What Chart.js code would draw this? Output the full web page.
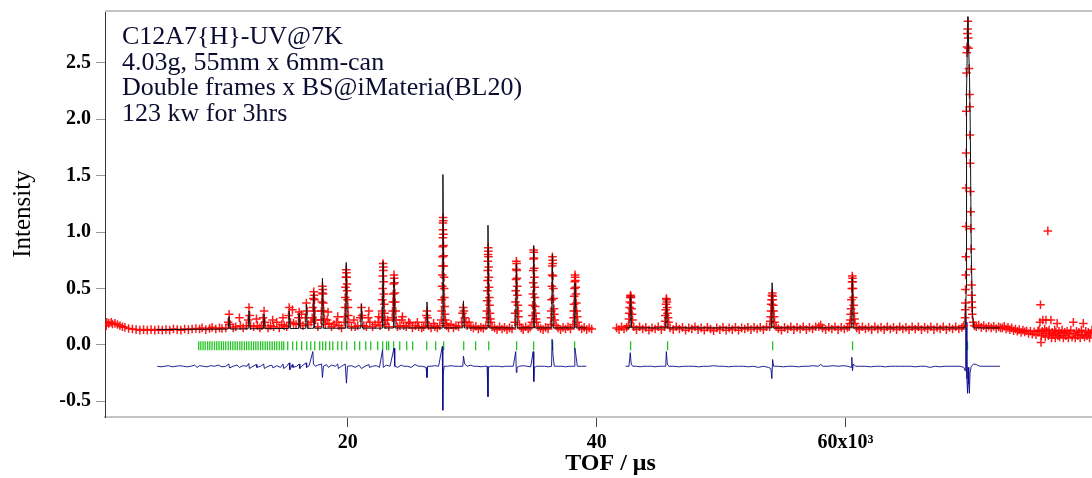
<!DOCTYPE html>
<html>
<head>
<meta charset="utf-8">
<script src="https://cdn.jsdelivr.net/npm/chart.js@4.4.0/dist/chart.umd.min.js"></script>
<style>
  html, body { margin: 0; padding: 0; background: #fff; }
  #wrap { position: relative; width: 1092px; height: 478px; }
  #note { position: absolute; left: 122px; top: 23px; font: 26px/25.5px "Liberation Serif", serif; color: #0c0c30; white-space: pre; }
</style>
</head>
<body>
<div id="wrap">
  <canvas id="rietveld" width="1092" height="478"></canvas>
  <div id="note">C12A7{H}-UV@7K
4.03g, 55mm x 6mm-can
Double frames x BS@iMateria(BL20)
123 kw for 3hrs</div>
</div>
<script>
// observed intensity, [TOF (x10^3 us), intensity]
var obsLow = [[0.6,0.17],[0.65,0.2],[0.8,0.19],[1.0,0.2],[1.1,0.185],[1.3,0.19],[1.5,0.18],[1.7,0.17],[1.9,0.16],[2.1,0.155],[2.4,0.145],[2.7,0.14],[3.0,0.135],[3.3,0.13],[3.6,0.135],[3.9,0.13],[4.2,0.135],[4.5,0.13],[4.8,0.135],[5.1,0.13],[5.4,0.135],[5.7,0.13],[6.0,0.14],[6.3,0.135],[6.6,0.13],[6.9,0.14],[7.2,0.135],[7.5,0.14],[7.8,0.145],[8.1,0.14],[8.3,0.15],[8.6,0.135],[8.9,0.145],[9.1,0.155],[9.4,0.14],[9.7,0.15],[9.9,0.145]];

var obsMid = [[10.2,0.15],[10.4,0.2],[10.47,0.27],[10.55,0.18],[10.8,0.15],[11.0,0.16],[11.3,0.24],[11.38,0.17],[11.6,0.15],[11.85,0.17],[12.0,0.22],[12.07,0.33],[12.12,0.26],[12.2,0.17],[12.45,0.16],[12.67,0.23],[12.75,0.17],[12.95,0.15],[13.1,0.17],[13.2,0.24],[13.28,0.3],[13.35,0.2],[13.6,0.15],[13.8,0.17],[13.97,0.22],[14.05,0.16],[14.3,0.2],[14.5,0.15],[14.7,0.18],[14.8,0.24],[14.9,0.17],[15.1,0.16],[15.25,0.26],[15.3,0.33],[15.4,0.2],[15.56,0.31],[15.65,0.19],[15.85,0.18],[16.05,0.24],[16.1,0.29],[16.2,0.19],[16.28,0.27],[16.4,0.17],[16.6,0.24],[16.68,0.37],[16.75,0.3],[16.85,0.18],[17.05,0.2],[17.15,0.24],[17.2,0.33],[17.24,0.41],[17.27,0.47],[17.3,0.44],[17.33,0.4],[17.37,0.3],[17.42,0.22],[17.6,0.16],[17.85,0.22],[17.88,0.3],[17.92,0.38],[17.95,0.46],[17.97,0.52],[18.0,0.49],[18.02,0.45],[18.05,0.37],[18.08,0.3],[18.13,0.23],[18.2,0.18],[18.35,0.22],[18.42,0.29],[18.5,0.19],[18.7,0.16],[18.9,0.18],[19.1,0.2],[19.2,0.25],[19.3,0.17],[19.5,0.15],[19.72,0.2],[19.75,0.25],[19.78,0.33],[19.8,0.42],[19.82,0.51],[19.85,0.6],[19.88,0.665],[19.9,0.64],[19.92,0.6],[19.94,0.54],[19.96,0.48],[19.99,0.4],[20.02,0.33],[20.05,0.26],[20.1,0.2],[20.3,0.16],[20.5,0.22],[20.6,0.16],[20.8,0.17],[21.0,0.24],[21.1,0.33],[21.16,0.26],[21.3,0.17],[21.5,0.16],[21.65,0.24],[21.7,0.3],[21.78,0.2],[22.0,0.16],[22.2,0.18],[22.45,0.2],[22.5,0.25],[22.6,0.17],[22.72,0.24],[22.75,0.3],[22.77,0.4],[22.8,0.5],[22.82,0.61],[22.84,0.72],[22.86,0.69],[22.87,0.66],[22.89,0.56],[22.91,0.45],[22.94,0.36],[22.97,0.28],[23.0,0.22],[23.05,0.18],[23.2,0.22],[23.3,0.16],[23.58,0.24],[23.6,0.3],[23.63,0.38],[23.66,0.45],[23.69,0.54],[23.72,0.62],[23.74,0.59],[23.76,0.55],[23.79,0.46],[23.82,0.38],[23.86,0.3],[23.9,0.22],[24.0,0.16],[24.2,0.17],[24.35,0.22],[24.4,0.25],[24.5,0.17],[24.7,0.16],[24.9,0.2],[25.0,0.19],[25.2,0.15],[25.45,0.17],[25.6,0.2],[25.7,0.16],[25.95,0.15]];

var obsHigh = [[26.1,0.16],[26.25,0.2],[26.32,0.26],[26.37,0.3],[26.42,0.24],[26.5,0.17],[26.7,0.15],[26.9,0.19],[27.0,0.16],[27.2,0.15],[27.4,0.17],[27.52,0.22],[27.55,0.3],[27.57,0.4],[27.59,0.52],[27.6,0.62],[27.61,0.7],[27.62,0.78],[27.63,0.87],[27.64,0.95],[27.65,1.02],[27.65,1.08],[27.66,1.13],[27.68,1.1],[27.69,0.98],[27.7,0.88],[27.71,0.79],[27.72,0.7],[27.74,0.6],[27.75,0.5],[27.77,0.42],[27.79,0.34],[27.82,0.27],[27.85,0.22],[27.9,0.19],[27.95,0.17],[28.1,0.15],[28.3,0.18],[28.5,0.15],[28.7,0.17],[28.9,0.16],[29.15,0.2],[29.22,0.28],[29.28,0.33],[29.33,0.3],[29.4,0.24],[29.5,0.2],[29.6,0.17],[29.75,0.2],[29.9,0.16],[30.1,0.15],[30.3,0.165],[30.5,0.14],[30.7,0.155],[30.9,0.145],[31.1,0.17],[31.16,0.24],[31.18,0.3],[31.2,0.39],[31.22,0.48],[31.24,0.57],[31.25,0.66],[31.26,0.74],[31.27,0.8],[31.29,0.86],[31.3,0.83],[31.31,0.78],[31.33,0.69],[31.34,0.6],[31.36,0.51],[31.38,0.42],[31.4,0.35],[31.43,0.28],[31.47,0.23],[31.5,0.2],[31.6,0.16],[31.8,0.15],[32.0,0.135],[32.2,0.16],[32.4,0.14],[32.6,0.155],[32.8,0.135],[33.0,0.15],[33.2,0.14],[33.42,0.2],[33.45,0.28],[33.48,0.38],[33.5,0.48],[33.52,0.58],[33.54,0.67],[33.55,0.74],[33.57,0.72],[33.58,0.66],[33.6,0.59],[33.62,0.52],[33.64,0.44],[33.67,0.35],[33.7,0.3],[33.73,0.25],[33.8,0.18],[33.95,0.15],[34.1,0.135],[34.3,0.16],[34.5,0.14],[34.65,0.155],[34.8,0.2],[34.84,0.26],[34.86,0.35],[34.88,0.45],[34.9,0.55],[34.91,0.66],[34.93,0.76],[34.94,0.84],[34.96,0.82],[34.97,0.77],[34.99,0.68],[35.0,0.6],[35.02,0.51],[35.04,0.42],[35.07,0.34],[35.1,0.28],[35.14,0.23],[35.18,0.2],[35.3,0.16],[35.5,0.145],[35.7,0.135],[35.9,0.155],[36.1,0.14],[36.3,0.18],[36.34,0.24],[36.36,0.3],[36.38,0.4],[36.4,0.52],[36.42,0.62],[36.43,0.7],[36.45,0.78],[36.47,0.75],[36.48,0.72],[36.5,0.61],[36.52,0.5],[36.54,0.41],[36.57,0.32],[36.6,0.27],[36.64,0.22],[36.75,0.17],[36.9,0.15],[37.1,0.135],[37.3,0.155],[37.5,0.14],[37.7,0.16],[37.9,0.14],[38.1,0.18],[38.14,0.24],[38.16,0.3],[38.18,0.36],[38.2,0.43],[38.22,0.5],[38.24,0.56],[38.26,0.62],[38.28,0.6],[38.3,0.57],[38.32,0.51],[38.34,0.45],[38.37,0.37],[38.4,0.3],[38.44,0.25],[38.48,0.2],[38.6,0.16],[38.8,0.14],[39.0,0.155],[39.2,0.135],[39.4,0.15],[39.6,0.14]];

var obsRight = [[41.6,0.15],[41.8,0.135],[42.0,0.16],[42.2,0.14],[42.4,0.155],[42.55,0.17],[42.6,0.23],[42.62,0.28],[42.65,0.33],[42.67,0.38],[42.7,0.42],[42.72,0.44],[42.74,0.43],[42.76,0.42],[42.78,0.37],[42.81,0.32],[42.84,0.27],[42.88,0.22],[42.98,0.16],[43.2,0.135],[43.45,0.16],[43.7,0.14],[43.95,0.155],[44.2,0.13],[44.45,0.15],[44.7,0.14],[44.95,0.16],[45.2,0.135],[45.45,0.16],[45.5,0.21],[45.52,0.26],[45.55,0.31],[45.57,0.36],[45.6,0.41],[45.62,0.4],[45.65,0.38],[45.67,0.33],[45.7,0.28],[45.74,0.24],[45.78,0.2],[45.9,0.15],[46.15,0.135],[46.4,0.16],[46.65,0.14],[46.9,0.155],[47.15,0.13],[47.4,0.15],[47.65,0.14],[47.9,0.16],[48.15,0.135],[48.4,0.15],[48.65,0.13],[48.9,0.155],[49.15,0.14],[49.4,0.125],[49.65,0.15],[49.9,0.135],[50.15,0.155],[50.4,0.13],[50.65,0.15],[50.9,0.135],[51.15,0.155],[51.4,0.13],[51.65,0.15],[51.9,0.14],[52.15,0.155],[52.4,0.135],[52.65,0.155],[52.9,0.14],[53.15,0.155],[53.4,0.135],[53.65,0.16],[53.9,0.16],[53.95,0.21],[53.98,0.25],[54.0,0.3],[54.03,0.36],[54.05,0.4],[54.08,0.44],[54.12,0.46],[54.14,0.43],[54.16,0.4],[54.19,0.35],[54.22,0.3],[54.26,0.25],[54.3,0.2],[54.42,0.16],[54.6,0.145],[54.85,0.13],[55.1,0.155],[55.35,0.14],[55.6,0.16],[55.85,0.135],[56.1,0.155],[56.35,0.14],[56.6,0.16],[56.85,0.135],[57.1,0.155],[57.35,0.14],[57.6,0.16],[57.85,0.16],[58.0,0.175],[58.15,0.15],[58.4,0.135],[58.65,0.155],[58.9,0.14],[59.15,0.16],[59.4,0.135],[59.65,0.155],[59.9,0.14],[60.15,0.155],[60.3,0.16],[60.34,0.19],[60.38,0.22],[60.41,0.27],[60.44,0.32],[60.47,0.4],[60.5,0.5],[60.52,0.56],[60.54,0.61],[60.56,0.59],[60.58,0.56],[60.6,0.5],[60.62,0.42],[60.65,0.35],[60.68,0.28],[60.72,0.23],[60.76,0.19],[60.9,0.15],[61.1,0.135],[61.35,0.16],[61.6,0.14],[61.85,0.155],[62.1,0.135],[62.35,0.16],[62.6,0.14],[62.85,0.155],[63.1,0.135],[63.35,0.16],[63.6,0.14],[63.85,0.155],[64.1,0.135],[64.35,0.16],[64.6,0.14],[64.85,0.155],[65.1,0.135],[65.35,0.16],[65.6,0.14],[65.85,0.16],[66.1,0.135],[66.35,0.155],[66.6,0.14],[66.85,0.16],[67.1,0.135],[67.35,0.155],[67.6,0.14],[67.85,0.16],[68.1,0.135],[68.35,0.155],[68.6,0.14],[68.85,0.16],[69.1,0.14],[69.35,0.155],[69.5,0.17]];

var obsPeak = [[69.6,0.24],[69.62,0.31],[69.63,0.37],[69.64,0.49],[69.65,0.62],[69.66,0.78],[69.68,1.05],[69.68,1.39],[69.69,1.7],[69.7,2.07],[69.72,2.41],[69.74,2.59],[69.76,2.64],[69.79,2.76],[69.81,2.8],[69.83,2.87],[69.86,2.72],[69.88,2.63],[69.92,2.45],[69.96,2.22],[69.97,2.11],[69.99,1.86],[70.01,1.61],[70.03,1.36],[70.05,1.18],[70.06,1.03],[70.08,0.85],[70.1,0.67],[70.12,0.53],[70.13,0.44],[70.14,0.38],[70.16,0.33],[70.18,0.27],[70.25,0.2],[70.35,0.17],[70.5,0.16],[70.7,0.175],[70.9,0.155],[71.1,0.17],[71.3,0.15],[71.5,0.165],[71.7,0.15],[71.9,0.165],[72.1,0.145],[72.3,0.16],[72.45,0.15]];

var obsTail = [[72.6,0.15],[72.75,0.165],[72.9,0.14],[73.05,0.155],[73.2,0.135],[73.35,0.15],[73.5,0.125],[73.65,0.14],[73.8,0.12],[73.95,0.135],[74.1,0.11],[74.25,0.13],[74.4,0.115],[74.55,0.125],[74.7,0.1],[74.85,0.12],[75.0,0.095],[75.15,0.115],[75.3,0.09],[75.45,0.12],[75.55,0.13],[75.62,0.2],[75.66,0.355],[75.7,0.02],[75.72,0.08],[75.8,0.12],[75.85,0.22],[75.9,0.1],[76.0,0.14],[76.05,0.07],[76.1,0.22],[76.15,0.12],[76.25,1.01],[76.3,0.08],[76.35,0.13],[76.4,0.1],[76.5,0.22],[76.55,0.06],[76.6,0.11],[76.7,0.09],[76.8,0.13],[76.85,0.06],[76.9,0.11],[77.0,0.19],[77.05,0.08],[77.15,0.12],[77.2,0.07],[77.3,0.1],[77.4,0.13],[77.5,0.06],[77.6,0.11],[77.7,0.08],[77.8,0.12],[77.9,0.06],[78.0,0.1],[78.1,0.13],[78.2,0.07],[78.3,0.2],[78.35,0.1],[78.45,0.06],[78.55,0.12],[78.65,0.08],[78.75,0.11],[78.85,0.06],[78.95,0.13],[79.05,0.09],[79.1,0.19],[79.2,0.07],[79.3,0.12],[79.4,0.08],[79.5,0.11],[79.6,0.06],[79.7,0.1],[79.8,0.13]];

// calculated profile (two frames)
var calcLeft = [[4.66,0.135],[8,0.138],[10.4,0.14],[10.47,0.25],[10.55,0.14],[12.0,0.142],[12.07,0.3],[12.15,0.143],[13.22,0.143],[13.28,0.27],[13.36,0.143],[15.25,0.145],[15.3,0.3],[15.38,0.145],[16.05,0.145],[16.1,0.28],[16.18,0.146],[16.63,0.146],[16.68,0.36],[16.76,0.146],[17.22,0.147],[17.27,0.46],[17.35,0.147],[17.92,0.147],[17.97,0.59],[18.05,0.147],[19.83,0.148],[19.88,0.73],[19.96,0.148],[21.05,0.148],[21.1,0.36],[21.18,0.148],[22.79,0.148],[22.84,0.74],[22.92,0.149],[23.67,0.149],[23.72,0.6],[23.8,0.149],[26.32,0.15],[26.37,0.38],[26.45,0.15],[27.6,0.15],[27.65,1.51],[27.73,0.15],[29.25,0.15],[29.3,0.39],[29.38,0.15],[31.22,0.15],[31.27,1.06],[31.35,0.15],[33.5,0.15],[33.55,0.72],[33.63,0.15],[34.89,0.15],[34.94,0.88],[35.02,0.15],[36.39,0.15],[36.44,0.8],[36.52,0.15],[38.22,0.15],[38.27,0.55],[38.35,0.15],[39.17,0.15]];
var calcRight = [[42.33,0.15],[42.68,0.15],[42.73,0.44],[42.81,0.15],[45.55,0.15],[45.6,0.41],[45.68,0.15],[54.05,0.15],[54.1,0.55],[54.18,0.15],[60.49,0.15],[60.54,0.6],[60.62,0.15],[69.6,0.15],[69.7,0.5],[69.72,2.25],[69.83,2.91],[69.9,2.6],[69.96,2.37],[70.02,1.93],[70.1,0.8],[70.2,0.28],[70.3,0.15],[72.4,0.15]];

// difference curve, offset below zero
var diffLeft = [[4.7,-0.19],[5.0,-0.195],[5.3,-0.19],[5.6,-0.185],[5.9,-0.195],[6.2,-0.19],[6.5,-0.185],[6.8,-0.19],[7.1,-0.195],[7.4,-0.19],[7.7,-0.18],[7.9,-0.2],[8.1,-0.185],[8.4,-0.19],[8.7,-0.195],[9.0,-0.185],[9.3,-0.19],[9.6,-0.18],[9.9,-0.195],[10.2,-0.19],[10.45,-0.17],[10.5,-0.205],[10.8,-0.19],[11.1,-0.18],[11.3,-0.2],[11.6,-0.185],[11.9,-0.19],[12.05,-0.165],[12.1,-0.21],[12.4,-0.19],[12.65,-0.175],[12.7,-0.2],[13.0,-0.19],[13.25,-0.17],[13.3,-0.21],[13.6,-0.19],[13.9,-0.18],[14.0,-0.205],[14.3,-0.185],[14.6,-0.2],[14.8,-0.17],[14.85,-0.21],[15.1,-0.19],[15.3,-0.16],[15.35,-0.22],[15.55,-0.175],[15.6,-0.2],[15.9,-0.19],[16.1,-0.17],[16.15,-0.21],[16.3,-0.19],[16.65,-0.16],[16.7,-0.2],[16.9,-0.185],[17.2,-0.06],[17.25,-0.17],[17.4,-0.19],[17.6,-0.18],[17.9,-0.17],[17.97,-0.29],[18.05,-0.19],[18.3,-0.175],[18.45,-0.2],[18.7,-0.18],[19.0,-0.19],[19.2,-0.17],[19.25,-0.21],[19.5,-0.19],[19.8,-0.17],[19.9,-0.34],[19.98,-0.19],[20.3,-0.185],[20.6,-0.2],[20.9,-0.18],[21.1,-0.21],[21.4,-0.19],[21.7,-0.175],[21.75,-0.2],[22.0,-0.19],[22.3,-0.185],[22.55,-0.2],[22.8,-0.045],[22.86,-0.2],[23.1,-0.18],[23.4,-0.19],[23.72,-0.03],[23.78,-0.19],[24.0,-0.2],[24.3,-0.18],[24.5,-0.19],[24.8,-0.19],[25.1,-0.2],[25.4,-0.175],[25.7,-0.19],[26.0,-0.19],[26.3,-0.2],[26.37,-0.29],[26.42,-0.19],[26.7,-0.19],[27.0,-0.185],[27.3,-0.19],[27.6,-0.015],[27.64,-0.58],[27.68,-0.25],[27.75,-0.19],[28.0,-0.19],[28.3,-0.185],[28.6,-0.19],[28.9,-0.19],[29.25,-0.19],[29.3,-0.1],[29.4,-0.17],[29.6,-0.19],[29.9,-0.18],[30.1,-0.19],[30.4,-0.19],[30.7,-0.195],[31.0,-0.19],[31.2,-0.19],[31.27,-0.46],[31.3,-0.2],[31.5,-0.19],[31.8,-0.19],[32.1,-0.19],[32.4,-0.195],[32.7,-0.19],[33.0,-0.19],[33.3,-0.19],[33.5,-0.06],[33.55,-0.245],[33.6,-0.2],[33.8,-0.19],[34.1,-0.185],[34.4,-0.19],[34.7,-0.195],[34.9,-0.06],[34.95,-0.325],[35.0,-0.2],[35.2,-0.19],[35.5,-0.19],[35.8,-0.19],[36.1,-0.195],[36.38,-0.19],[36.42,0.05],[36.5,-0.1],[36.6,-0.19],[36.9,-0.19],[37.2,-0.19],[37.5,-0.195],[37.8,-0.19],[38.2,-0.19],[38.25,-0.03],[38.32,-0.08],[38.45,-0.19],[38.8,-0.19],[39.17,-0.19]];
var diffRight = [[42.33,-0.19],[42.6,-0.19],[42.7,-0.07],[42.78,-0.17],[42.9,-0.19],[43.2,-0.19],[43.5,-0.195],[43.8,-0.19],[44.1,-0.19],[44.4,-0.19],[44.7,-0.195],[45.0,-0.19],[45.3,-0.19],[45.55,-0.19],[45.6,-0.06],[45.68,-0.17],[45.8,-0.19],[46.2,-0.19],[46.6,-0.195],[47.0,-0.19],[47.4,-0.19],[47.8,-0.19],[48.2,-0.195],[48.6,-0.19],[49.0,-0.19],[49.4,-0.185],[49.8,-0.19],[50.2,-0.19],[50.6,-0.195],[51.0,-0.19],[51.4,-0.19],[51.8,-0.19],[52.2,-0.195],[52.6,-0.19],[53.0,-0.2],[53.4,-0.19],[53.8,-0.2],[54.0,-0.21],[54.08,-0.3],[54.14,-0.13],[54.22,-0.19],[54.6,-0.19],[55.0,-0.195],[55.4,-0.19],[55.8,-0.19],[56.2,-0.195],[56.6,-0.19],[57.0,-0.19],[57.4,-0.185],[57.8,-0.19],[58.0,-0.175],[58.2,-0.19],[58.6,-0.19],[59.0,-0.185],[59.4,-0.19],[59.8,-0.185],[60.2,-0.19],[60.45,-0.2],[60.5,-0.11],[60.56,-0.23],[60.62,-0.17],[60.8,-0.19],[61.2,-0.19],[61.6,-0.19],[62.0,-0.195],[62.4,-0.19],[62.8,-0.19],[63.2,-0.195],[63.6,-0.19],[64.0,-0.19],[64.4,-0.19],[64.8,-0.19],[65.2,-0.19],[65.6,-0.195],[66.0,-0.19],[66.4,-0.19],[66.8,-0.2],[67.2,-0.19],[67.6,-0.195],[68.0,-0.19],[68.4,-0.19],[68.8,-0.19],[69.2,-0.19],[69.5,-0.2],[69.6,-0.23],[69.65,0.36],[69.7,0.2],[69.75,-0.3],[69.8,-0.43],[69.85,-0.2],[69.9,-0.35],[69.95,-0.43],[70.0,-0.25],[70.1,-0.19],[70.3,-0.17],[70.5,-0.175],[70.8,-0.19],[71.2,-0.19],[71.6,-0.19],[72.0,-0.19],[72.4,-0.19]];

// reflection positions
var reflTof = [8.03,8.2,8.38,8.55,8.75,8.92,9.1,9.3,9.48,9.66,9.85,10.02,10.2,10.4,10.58,10.77,10.95,11.13,11.33,11.5,11.7,11.88,12.06,12.25,12.44,12.62,12.8,13.0,13.18,13.37,13.55,13.74,13.93,14.12,14.3,14.5,14.7,14.86,15.18,15.58,15.9,16.3,16.71,17.03,17.35,17.75,17.99,18.23,18.55,18.8,19.2,19.52,19.92,20.56,20.96,21.45,21.85,22.41,22.81,23.13,23.29,23.69,24.18,24.74,25.22,26.35,27.07,27.71,29.32,30.28,31.33,33.57,34.94,36.47,38.23,42.73,45.7,54.14,60.56,69.8];
var reflLevel = -0.008;

var xTicks = [20, 40, 60];
var yTicks = [-0.5, 0.0, 0.5, 1.0, 1.5, 2.0, 2.5];

function toXY(list) {
	return list.map(function(p) { return {x: p[0], y: p[1]}; });
}

var obsData = toXY([].concat(obsLow, obsMid, obsHigh, obsRight, obsPeak, obsTail));
var calcData = toXY(calcLeft).concat([{x: 40.8, y: null}], toXY(calcRight));
var diffData = toXY(diffLeft).concat([{x: 40.8, y: null}], toXY(diffRight));
var reflData = reflTof.map(function(t) { return {x: t, y: reflLevel}; });

var topFrame = {
	id: 'topFrame',
	afterDraw: function(chart) {
		var a = chart.chartArea, ctx = chart.ctx;
		ctx.save();
		ctx.strokeStyle = '#c4c4c4';
		ctx.lineWidth = 2;
		ctx.beginPath();
		ctx.moveTo(a.left, a.top);
		ctx.lineTo(a.right, a.top);
		ctx.stroke();
		ctx.restore();
	}
};

var serif = '"Liberation Serif", "Times New Roman", serif';

window.onload = function() {
	var ctx = document.getElementById('rietveld').getContext('2d');
	window.myChart = new Chart(ctx, {
		type: 'scatter',
		data: {
			datasets: [{
				label: 'calc',
				data: calcData,
				showLine: true,
				borderColor: '#111',
				borderWidth: 1,
				pointRadius: 0,
				spanGaps: false,
				order: 1
			}, {
				label: 'obs',
				data: obsData,
				pointStyle: 'cross',
				pointRadius: 4.3,
				borderColor: 'rgba(255,0,0,0.9)',
				borderWidth: 1.5,
				order: 2
			}, {
				label: 'diff',
				data: diffData,
				showLine: true,
				borderColor: 'rgba(10,10,140,0.9)',
				borderWidth: 1,
				pointRadius: 0,
				spanGaps: false,
				order: 3
			}, {
				label: 'hkl',
				data: reflData,
				pointStyle: 'line',
				rotation: 90,
				pointRadius: 4.5,
				borderColor: '#22c422',
				borderWidth: 1.3,
				order: 4
			}]
		},
		options: {
			responsive: false,
			animation: false,
			layout: { autoPadding: false, padding: { top: 11, right: 0, left: 0, bottom: 0 } },
			plugins: {
				legend: { display: false },
				tooltip: { enabled: false }
			},
			scales: {
				x: {
					type: 'linear',
					min: 0.5,
					max: 79.8,
					afterFit: function(s) { s.height = 61; s.paddingLeft = 0; s.paddingRight = 0; },
					afterBuildTicks: function(s) { s.ticks = xTicks.map(function(v) { return {value: v}; }); },
					grid: { drawOnChartArea: false, color: '#444', tickLength: 10 },
					border: { color: '#c4c4c4', width: 2 },
					ticks: {
						color: '#000',
						padding: 4,
						font: { family: serif, size: 20, weight: 'bold' },
						callback: function(v) { return v === 60 ? '60x10\u00b3' : String(v); }
					},
					title: {
						display: true,
						text: '    TOF / \u03bcs',
						color: '#000',
						font: { family: serif, size: 24, weight: 'bold' },
						padding: { top: 0, bottom: 0 }
					}
				},
				y: {
					min: -0.64,
					max: 2.96,
					afterFit: function(s) { s.width = 105; s.paddingTop = 0; s.paddingBottom = 0; },
					afterBuildTicks: function(s) { s.ticks = yTicks.map(function(v) { return {value: v}; }); },
					grid: { drawOnChartArea: false, color: '#999', tickLength: 9 },
					border: { color: '#333', width: 1 },
					ticks: {
						color: '#000',
						padding: 5,
						font: { family: serif, size: 20, weight: 'bold' },
						callback: function(v) { return v.toFixed(1); }
					},
					title: {
						display: true,
						text: 'Intensity',
						color: '#000',
						font: { family: serif, size: 25 },
						padding: { top: 8, bottom: 0 }
					}
				}
			}
		},
		plugins: [topFrame]
	});
};
</script>
</body>
</html>
